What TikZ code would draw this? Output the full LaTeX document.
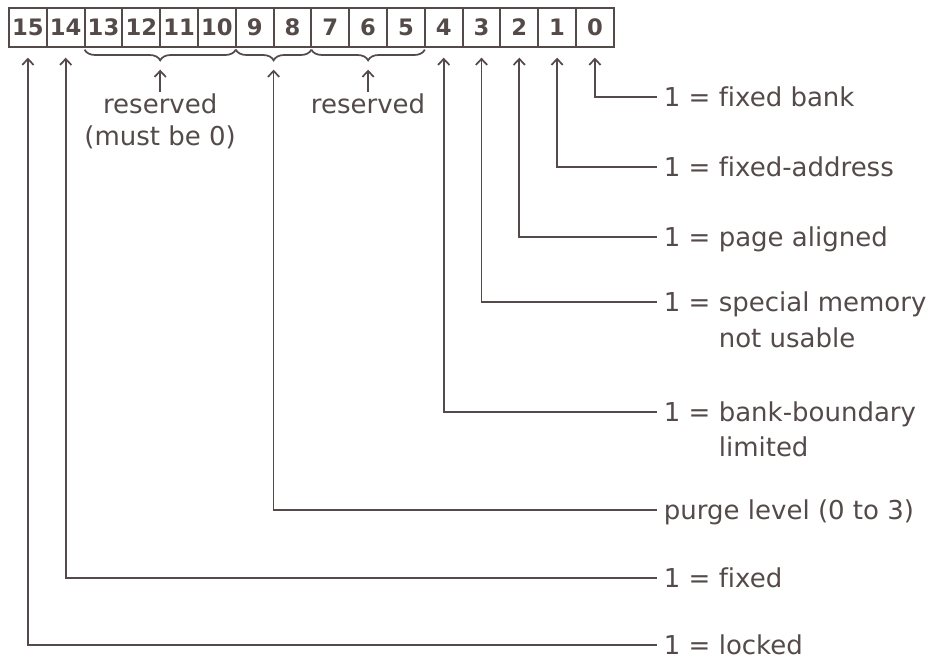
\documentclass[tikz,border=0pt]{standalone}
\usepackage{fontspec}
\setmainfont{DejaVu Sans}[Ligatures=NoCommon]
\usetikzlibrary{positioning,arrows.meta,decorations.pathreplacing}
\definecolor{ink}{RGB}{84,74,74}
\tikzset{bitcell/.style = {draw=ink, text=ink, line width=1.4pt, outer sep=0pt, inner sep=0pt, minimum width=28.35pt, minimum height=29.25pt, font=\fontsize{17}{18}\selectfont\bfseries}}
\tikzset{flaglabel/.style = {anchor=west, inner xsep=5pt, inner ysep=0pt, text height=14.2pt, text depth=0pt, text=ink, font=\fontsize{19.5}{24}\selectfont}}
\tikzset{fieldnote/.style = {align=center, inner sep=1pt, text=ink, font=\fontsize{19.5}{24}\selectfont}}
\tikzset{fieldbrace/.style = {draw=ink, line width=1.3pt, decorate, decoration={brace, mirror, amplitude=8pt}}}
\tikzset{pointer/.style = {draw=ink, line width=1.3pt, <-}}

\begin{document}
\begin{tikzpicture}[x=0.75pt, y=-0.75pt, node distance=0pt, >={Straight Barb[length=4.5pt, width=8.5pt]}]
  \useasboundingbox (0,0) rectangle (941,661);

  \node [bitcell] (b15) at (27.9,27.5) {15};
  \node [bitcell, right=of b15] (b14) {14};
  \node [bitcell, right=of b14] (b13) {13};
  \node [bitcell, right=of b13] (b12) {12};
  \node [bitcell, right=of b12] (b11) {11};
  \node [bitcell, right=of b11] (b10) {10};
  \node [bitcell, right=of b10] (b9) {9};
  \node [bitcell, right=of b9] (b8) {8};
  \node [bitcell, right=of b8] (b7) {7};
  \node [bitcell, right=of b7] (b6) {6};
  \node [bitcell, right=of b6] (b5) {5};
  \node [bitcell, right=of b5] (b4) {4};
  \node [bitcell, right=of b4] (b3) {3};
  \node [bitcell, right=of b3] (b2) {2};
  \node [bitcell, right=of b2] (b1) {1};
  \node [bitcell, right=of b1] (b0) {0};

  \draw [fieldbrace] ([yshift=-2pt]b13.south west) -- ([yshift=-2pt]b10.south east);
  \draw [fieldbrace] ([yshift=-2pt]b9.south west) -- ([yshift=-2pt]b8.south east);
  \draw [fieldbrace] ([yshift=-2pt]b7.south west) -- ([yshift=-2pt]b5.south east);

  \coordinate (g1) at ([yshift=-17pt]b12.south east);
  \coordinate (g2) at ([yshift=-17pt]b9.south east);
  \coordinate (g3) at ([yshift=-17pt]b6.south);

  \node [fieldnote, below=17pt of g1] (r1) {reserved\\(must be 0)};
  \node [fieldnote, below=17pt of g3] (r2) {reserved};

  \node [flaglabel] (l0) at (657,97) {1 = fixed bank};
  \node [flaglabel] (l1) at (657,167) {1 = fixed-address};
  \node [flaglabel] (l2) at (657,237) {1 = page aligned};
  \node [flaglabel] (l3) at (657,302) {1 = special memory};
  \node [flaglabel, anchor=base west] (l3b) at ([yshift=-27pt]l3.base west) {\phantom{1 = }not usable};
  \node [flaglabel] (l4) at (657,412) {1 = bank-boundary};
  \node [flaglabel, anchor=base west] (l4b) at ([yshift=-26pt]l4.base west) {\phantom{1 = }limited};
  \node [flaglabel] (l98) at (657,510) {purge level (0 to 3)};
  \node [flaglabel] (l14) at (657,578) {1 = fixed};
  \node [flaglabel] (l15) at (657,645) {1 = locked};

  \draw [pointer] (g1) -- (r1);
  \draw [pointer] (g3) -- (r2);
  \draw [pointer] (g2) |- (l98);
  \draw [pointer] ([yshift=-8pt]b0.south) |- (l0);
  \draw [pointer] ([yshift=-8pt]b1.south) |- (l1);
  \draw [pointer] ([yshift=-8pt]b2.south) |- (l2);
  \draw [pointer] ([yshift=-8pt]b3.south) |- (l3);
  \draw [pointer] ([yshift=-8pt]b4.south) |- (l4);
  \draw [pointer] ([yshift=-8pt]b14.south) |- (l14);
  \draw [pointer] ([yshift=-8pt]b15.south) |- (l15);
\end{tikzpicture}
\end{document}
